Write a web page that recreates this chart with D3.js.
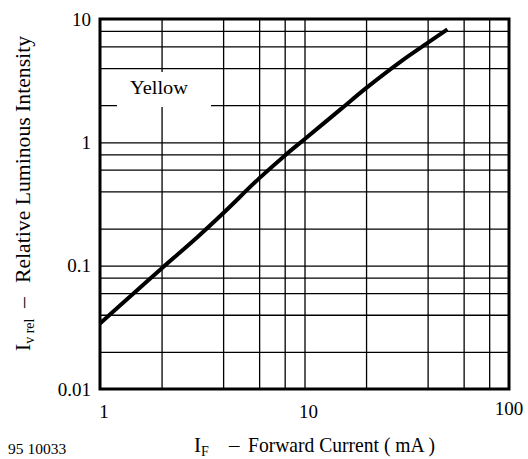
<!DOCTYPE html>
<html>
<head>
<meta charset="utf-8">
<script src="https://cdn.jsdelivr.net/npm/d3@7"></script>
<style>
  body { margin: 0; background: #fff; }
  text { font-family: "Liberation Serif", "Times New Roman", serif; fill: #000; }
</style>
</head>
<body>
<div id="chart"></div>
<script>
// forward current (mA) vs relative luminous intensity
const current = [1, 1.5, 2, 3, 4, 6, 8, 10, 15, 20, 30, 40, 50];
const intensity = [0.034, 0.062, 0.095, 0.171, 0.266, 0.51, 0.78, 1.06, 1.85, 2.75, 4.6, 6.4, 8.25];

const xGrid = [2, 4, 6, 8, 10, 20, 40, 60, 80];
const yGrid = [0.02, 0.04, 0.06, 0.08, 0.1, 0.2, 0.4, 0.6, 0.8, 1, 2, 4, 6, 8];
const xLabels = [1, 10, 100];
const yLabels = [0.01, 0.1, 1, 10];

const width = 528, height = 459;
const margin = {top: 19, right: 19, bottom: 70, left: 100};
const innerW = width - margin.left - margin.right;
const innerH = height - margin.top - margin.bottom;

const svg = d3.select("#chart").append("svg")
    .attr("width", width)
    .attr("height", height);

const x = d3.scaleLog().domain([1, 100]).range([margin.left, width - margin.right]);
const y = d3.scaleLog().domain([0.01, 10]).range([height - margin.bottom, margin.top]);

// grid
svg.append("g")
    .attr("transform", `translate(0,${height - margin.bottom})`)
    .call(d3.axisBottom(x).tickValues(xGrid).tickSize(-innerH).tickFormat(""))
    .call(g => g.select(".domain").remove())
    .call(g => g.selectAll("line").attr("stroke", "#000").attr("stroke-width", 1.3));

svg.append("g")
    .attr("transform", `translate(${margin.left},0)`)
    .call(d3.axisLeft(y).tickValues(yGrid).tickSize(-innerW).tickFormat(""))
    .call(g => g.select(".domain").remove())
    .call(g => g.selectAll("line").attr("stroke", "#000").attr("stroke-width", 1.3));

// legend box hides the grid behind it
svg.append("rect")
    .attr("x", 117).attr("y", 72)
    .attr("width", 94).attr("height", 35)
    .attr("fill", "#fff");
svg.append("text")
    .attr("x", 130).attr("y", 94)
    .attr("font-size", 19.5)
    .attr("textLength", 58).attr("lengthAdjust", "spacingAndGlyphs")
    .text("Yellow");

// curve
const line = d3.line()
    .x((d, i) => x(current[i]))
    .y(d => y(d))
    .curve(d3.curveCatmullRom);

svg.append("path")
    .datum(intensity)
    .attr("fill", "none")
    .attr("stroke", "#000")
    .attr("stroke-width", 4)
    .attr("stroke-linejoin", "round")
    .attr("d", line);

// frame
svg.append("rect")
    .attr("x", margin.left).attr("y", margin.top)
    .attr("width", innerW).attr("height", innerH)
    .attr("fill", "none")
    .attr("stroke", "#000")
    .attr("stroke-width", 3);

// tick labels
svg.append("g").selectAll("text")
  .data(xLabels)
  .join("text")
    .attr("x", d => x(d) + (d === 100 ? 0 : 4))
    .attr("y", d => d === 100 ? 415 : 418)
    .attr("text-anchor", "middle")
    .attr("font-size", 19)
    .text(d => d);

svg.append("g").selectAll("text")
  .data(yLabels)
  .join("text")
    .attr("x", 91)
    .attr("y", d => y(d))
    .attr("dy", "0.35em")
    .attr("text-anchor", "end")
    .attr("font-size", 19)
    .text(d => d);

// x title
const xt = svg.append("text")
    .attr("y", 452)
    .attr("font-size", 21);
xt.append("tspan").attr("x", 194).text("I");
xt.append("tspan").attr("font-size", 14).attr("dy", 3.5).text("F");
xt.append("tspan").attr("x", 229).attr("dy", -3.5).text("\u2013");
xt.append("tspan").attr("x", 248)
    .attr("textLength", 187).attr("lengthAdjust", "spacingAndGlyphs")
    .text("Forward Current ( mA )");

// y title (rotated, positions measured upward from the bottom)
const yt = svg.append("text")
    .attr("transform", "translate(30,0) rotate(-90)")
    .attr("font-size", 21.5);
yt.append("tspan").attr("x", -351).text("I");
yt.append("tspan").attr("font-size", 14).attr("dy", 4).text("v rel");
yt.append("tspan").attr("x", -308).attr("dy", -4).text("\u2013");
yt.append("tspan").attr("x", -283)
    .attr("textLength", 247).attr("lengthAdjust", "spacingAndGlyphs")
    .text("Relative Luminous Intensity");

svg.append("text")
    .attr("x", 8).attr("y", 454)
    .attr("font-size", 15.5)
    .text("95 10033");
</script>
</body>
</html>
